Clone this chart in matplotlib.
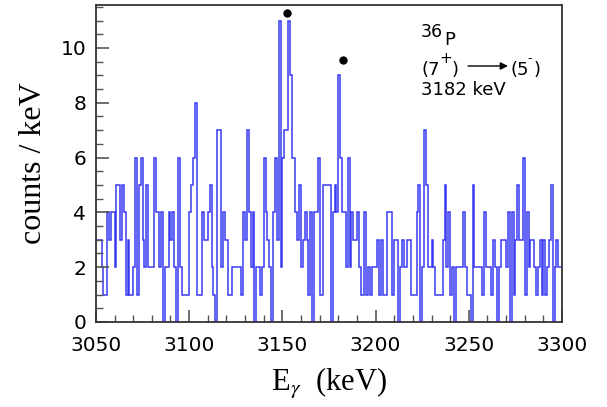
import numpy as np
import matplotlib
matplotlib.use("Agg")
import matplotlib.pyplot as plt

# counts per 1 keV bin, 3050 .. 3300 keV
e_start = 3050
counts = [
    3, 3, 3, 2, 1, 1, 4, 3, 4, 4,
    2, 5, 5, 3, 5, 4, 1, 3, 1, 1,
    2, 6, 1, 5, 6, 3, 2, 5, 2, 2,
    2, 6, 4, 4, 2, 4, 0, 2, 2, 4,
    3, 4, 2, 0, 6, 2, 1, 1, 1, 1,
    4, 5, 6, 8, 1, 1, 1, 4, 3, 3,
    4, 5, 2, 1, 0, 7, 7, 2, 4, 3,
    3, 1, 1, 2, 2, 2, 2, 2, 1, 4,
    3, 7, 4, 2, 4, 0, 2, 2, 1, 2,
    6, 4, 3, 2, 0, 4, 6, 3, 11, 2,
    6, 7, 7, 11, 9, 6, 6, 4, 3, 5,
    2, 3, 4, 3, 1, 4, 0, 4, 4, 6,
    1, 1, 5, 5, 5, 5, 0, 4, 5, 4,
    9, 6, 4, 4, 2, 6, 2, 4, 3, 3,
    4, 2, 1, 1, 4, 1, 2, 1, 2, 2,
    2, 3, 1, 3, 1, 1, 4, 4, 4, 1,
    3, 3, 0, 2, 3, 2, 2, 3, 3, 1,
    1, 1, 4, 5, 0, 2, 7, 5, 2, 2,
    3, 2, 1, 1, 1, 1, 3, 5, 2, 4,
    1, 2, 0, 2, 2, 2, 2, 4, 2, 1,
    1, 0, 5, 2, 2, 2, 2, 1, 4, 2,
    2, 2, 1, 3, 2, 0, 2, 3, 3, 3,
    2, 4, 0, 4, 1, 3, 5, 3, 3, 6,
    1, 4, 2, 3, 3, 2, 1, 2, 3, 1,
    3, 1, 2, 3, 5, 0, 2, 3, 2, 2,
]
edges = np.arange(e_start, e_start + len(counts) + 1)

# marked peaks
peak_e = [3152.3, 3182.5]
peak_y = [11.28, 9.56]

plt.rcParams['mathtext.fontset'] = 'stix'

fig = plt.figure(figsize=(6.07, 4.07), dpi=100)
ax = fig.add_axes([0.158, 0.209, 0.768, 0.779])

ax.stairs(counts, edges, baseline=None, color='#3a3af5', lw=1.1)
ax.plot(peak_e, peak_y, 'o', color='black', ms=5)

ax.set_xlim(3050, 3300)
ax.set_ylim(0, 11.57)
ax.set_xticks(np.arange(3050, 3301, 50))
ax.set_xticks(np.arange(3050, 3301, 10), minor=True)
ax.set_yticks(np.arange(0, 11, 2))
ax.set_yticks(np.arange(0, 11.6, 0.5), minor=True)

ax.tick_params(which='both', direction='in', top=False, right=False,
               labelsize=14.5, color='#555555')
ax.tick_params(which='major', length=9, width=1.2, pad=7)
ax.tick_params(axis='x', which='major', pad=10)
ax.tick_params(which='minor', length=5, width=1.0)
for s in ax.spines.values():
    s.set_color('#333333')
    s.set_linewidth(1.3)

ax.set_ylabel('counts / keV', family='Liberation Serif', fontsize=23, labelpad=9)
ax.set_xlabel(r'E$_{\gamma}$  (keV)', family='Liberation Serif', fontsize=22,
              labelpad=8)

# transition label
fs = 13
fam = 'DejaVu Sans'
ax.text(3224.4, 10.4, '36', fontsize=12.5, family=fam)
ax.text(3236.9, 10.11, 'P', fontsize=fs, family=fam)
ax.text(3224.4, 9.0, '(7', fontsize=fs, family=fam)
ax.text(3234.3, 9.45, '+', fontsize=11, family=fam)
ax.text(3240.6, 9.0, ')', fontsize=fs, family=fam)
ax.annotate('', xy=(3271.0, 9.34), xytext=(3249.6, 9.34),
            arrowprops=dict(arrowstyle='-|>', color='black', lw=1,
                            mutation_scale=11, shrinkA=0, shrinkB=0))
ax.text(3272.1, 9.0, '(5', fontsize=fs, family=fam)
ax.text(3281.6, 9.48, '-', fontsize=9, family=fam)
ax.text(3284.6, 9.0, ')', fontsize=fs, family=fam)
ax.text(3224.4, 8.28, '3182 keV', fontsize=fs, family=fam)

fig.savefig('out.png', dpi=100)
